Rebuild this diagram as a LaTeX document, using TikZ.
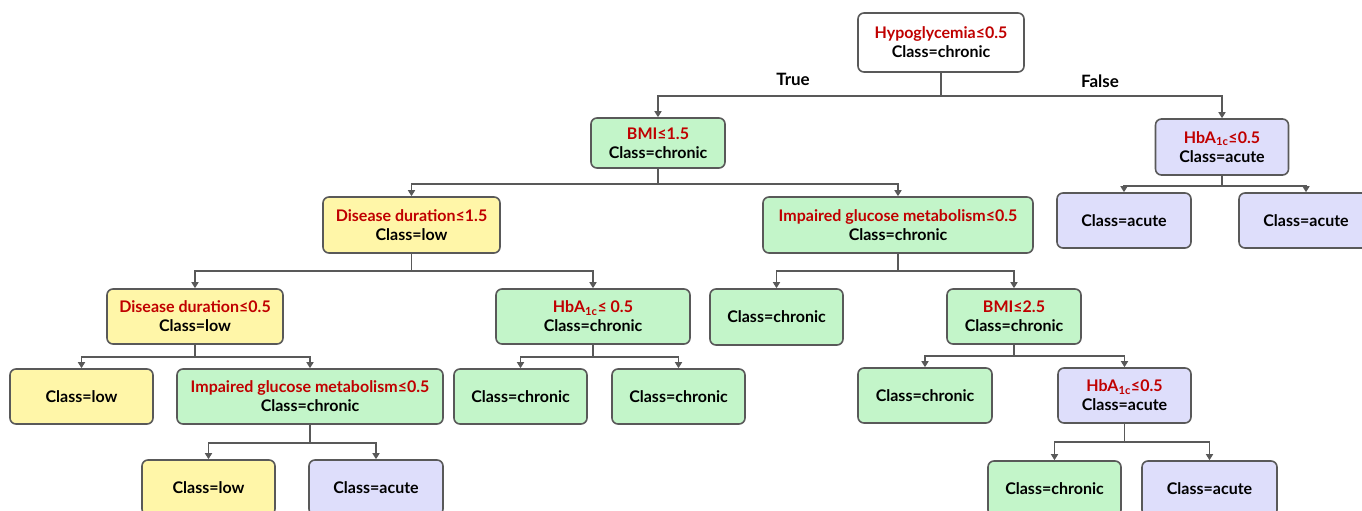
\documentclass[tikz,border=0pt]{standalone}
\usepackage{fontspec}
\setmainfont{Lato}
\usetikzlibrary{arrows.meta}
\definecolor{linegray}{HTML}{595959}
\definecolor{condred}{HTML}{C00000}
\definecolor{chronicfill}{HTML}{C3F5C9}
\definecolor{lowfill}{HTML}{FFF6A8}
\definecolor{acutefill}{HTML}{DEDEFB}
\newcommand\cond[1]{\textcolor{condred}{#1}}
\newcommand\hbac{HbA\textsubscript{1c}}

\begin{document}
\begin{tikzpicture}[x=1pt, y=-1pt,
    box/.style={draw=linegray, line width=1.6pt, rounded corners=6pt, minimum height=55pt, align=center, inner sep=2pt, font=\fontsize{16}{19}\selectfont\bfseries},
    chronic/.style={box, fill=chronicfill},
    low/.style={box, fill=lowfill},
    acute/.style={box, fill=acutefill},
    conn/.style={draw=linegray, line width=1.6pt, -{Triangle[length=6pt,width=7pt]}}]
    \clip (0,0) rectangle (1362,511);
    % split nodes and leaves
    \node[box, fill=white, minimum width=166pt, minimum height=59pt] (root) at (941,42.5) {\cond{Hypoglycemia≤0.5}\\Class=chronic};
    \node[chronic, minimum width=134pt, minimum height=50pt] (bmiA) at (658,143) {\cond{BMI≤1.5}\\Class=chronic};
    \node[acute, minimum width=133pt, minimum height=56pt] (hbaR) at (1222,147) {\cond{\hbac≤0.5}\\Class=acute};
    \node[acute, minimum width=134pt] (acuteA) at (1124,220.5) {Class=acute};
    \node[acute, minimum width=134pt] (acuteB) at (1306,220.5) {Class=acute};
    \node[low, minimum width=177pt, minimum height=56pt] (durA) at (411.5,225) {\cond{Disease duration≤1.5}\\Class=low};
    \node[chronic, minimum width=270pt, minimum height=56pt] (igmA) at (898,225) {\cond{Impaired glucose metabolism≤0.5}\\Class=chronic};
    \node[low, minimum width=176pt] (durB) at (195,316.5) {\cond{Disease duration≤0.5}\\Class=low};
    \node[chronic, minimum width=194pt] (hbaB) at (593,316.5) {\cond{\hbac≤ 0.5}\\Class=chronic};
    \node[chronic, minimum width=133pt, minimum height=56pt] (chrA) at (776.5,317) {Class=chronic};
    \node[chronic, minimum width=134pt] (bmiB) at (1014,316.5) {\cond{BMI≤2.5}\\Class=chronic};
    \node[low, minimum width=143pt] (lowA) at (81.5,396.5) {Class=low};
    \node[chronic, minimum width=266pt] (igmB) at (310,396.5) {\cond{Impaired glucose metabolism≤0.5}\\Class=chronic};
    \node[chronic, minimum width=133pt] (chrB) at (520.5,396.5) {Class=chronic};
    \node[chronic, minimum width=133pt] (chrC) at (678.5,396.5) {Class=chronic};
    \node[chronic, minimum width=134pt] (chrD) at (925,395.5) {Class=chronic};
    \node[acute, minimum width=133pt] (hbaC) at (1124.5,395.5) {\cond{\hbac≤0.5}\\Class=acute};
    \node[low, minimum width=133pt] (lowB) at (208.5,487.5) {Class=low};
    \node[acute, minimum width=134pt] (acuteC) at (376,487.5) {Class=acute};
    \node[chronic, minimum width=133pt] (chrE) at (1054.5,488.5) {Class=chronic};
    \node[acute, minimum width=135pt] (acuteD) at (1209.5,488.5) {Class=acute};
    % branch labels
    \node[font=\fontsize{17}{20}\selectfont\bfseries] (true) at (793,79) {True};
    \node[font=\fontsize{17}{20}\selectfont\bfseries] (false) at (1100,81) {False};
    % elbow connectors
    \foreach \up/\dy/\dn in {root/23/bmiA, root/23/hbaR, hbaR/10/acuteA, hbaR/10/acuteB,
        bmiA/15/durA, bmiA/15/igmA, durA/17/durB, durA/17/hbaB, igmA/17/chrA, igmA/17/bmiB,
        durB/12/lowA, durB/12/igmB, hbaB/12/chrB, hbaB/12/chrC, bmiB/11/chrD, bmiB/11/hbaC,
        igmB/18/lowB, igmB/18/acuteC, hbaC/18/chrE, hbaC/18/acuteD}
        \draw[conn] (\up.south) -- ++(0,\dy) -| (\dn.north);
\end{tikzpicture}
\end{document}
